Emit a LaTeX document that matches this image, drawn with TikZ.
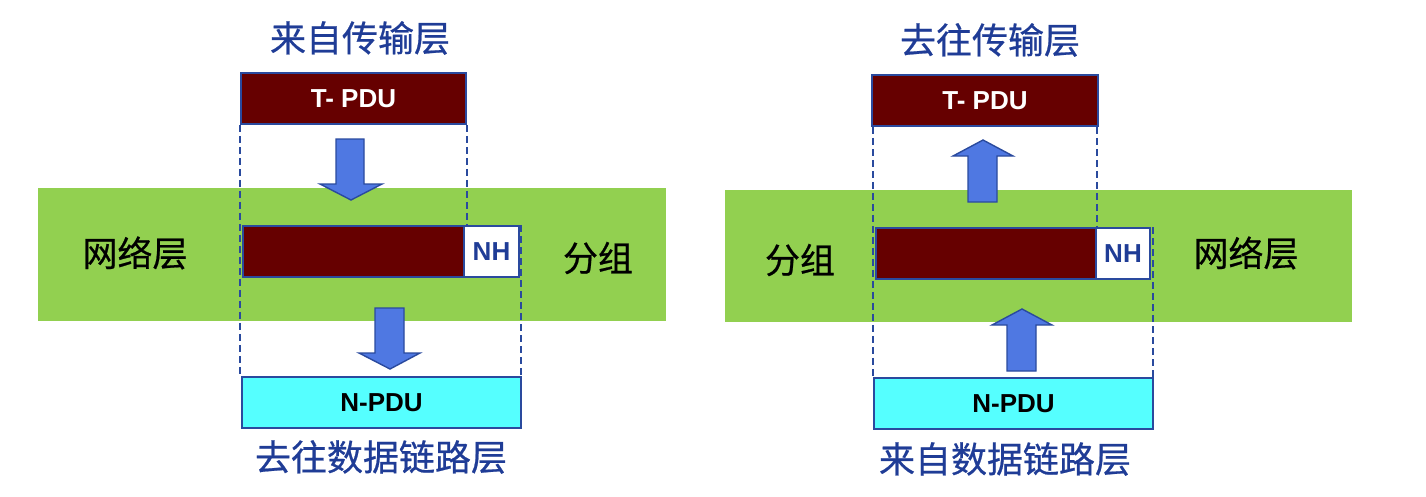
\documentclass[tikz,border=0pt]{standalone}
\usepackage{fontspec}
\setmainfont{Liberation Sans}
\newfontfamily\cjk[FakeBold=0.6]{Noto Sans CJK SC}
\definecolor{bandgreen}{HTML}{92D050}
\definecolor{darkred}{HTML}{660000}
\definecolor{edgeblue}{HTML}{2A4A9E}
\definecolor{titleblue}{HTML}{1F3C96}
\definecolor{arrowfill}{HTML}{4F78E2}
\definecolor{cyanfill}{HTML}{55FFFF}
\tikzset{
  band/.style={fill=bandgreen, draw=none},
  pdubox/.style={draw=edgeblue, line width=1.6pt, minimum height=51, inner sep=0pt, font=\fontsize{26}{30}\selectfont\bfseries},
  tbox/.style={pdubox, fill=darkred, text=white},
  redbox/.style={pdubox, fill=darkred},
  nhbox/.style={pdubox, fill=white, text=titleblue},
  nbox/.style={pdubox, fill=cyanfill, text=black},
  guide/.style={draw=edgeblue, line width=1.7pt, dash pattern=on 7pt off 4pt},
  blockarrow/.style={fill=arrowfill, draw=edgeblue, line width=1.4pt, line join=miter},
  title/.style={inner sep=0pt, text=titleblue, font=\cjk\fontsize{36}{42}\selectfont},
  side/.style={inner sep=0pt, text=black, font=\cjk\fontsize{35}{42}\selectfont},
}
\begin{document}
\begin{tikzpicture}[x=1pt,y=-1pt]
\useasboundingbox (0,0) rectangle (1426,496);
% ---------------- left ----------------
\fill[band] (38,188) rectangle (666,321);
\node[tbox, minimum width=225] (ltpdu) at (353.5,98.5) {T- PDU};
\node[redbox, minimum width=221] (lmid) at (353.5,251.5) {};
\node[nhbox, minimum width=55] (lnh) at (491.5,251.5) {NH};
\node[nbox, minimum width=279] (lnpdu) at (381.5,402.5) {N-PDU};
\draw[guide] (ltpdu.south west) -- (ltpdu.south west |- lnpdu.north);
\draw[guide] (ltpdu.south east) -- (ltpdu.south east |- lmid.north);
\draw[guide] ([xshift=1pt]lnh.north east) -- ([xshift=1pt]lnh.north east |- lnpdu.north);
\draw[blockarrow] (336,139) -- (364,139) -- (364,184) -- (382,184) -- (351,200) -- (320,184) -- (336,184) -- cycle;
\draw[blockarrow] (375,308) -- (404,308) -- (404,353) -- (420,353) -- (390,369) -- (359,353) -- (375,353) -- cycle;
\node[title] (ltop) at (360,38) {来自传输层};
\node[title] (lbot) at (381,457) {去往数据链路层};
\node[side] (lleft) at (135,253) {网络层};
\node[side] (lright) at (598,258) {分组};
% ---------------- right ----------------
\fill[band] (725,190) rectangle (1352,322);
\node[tbox, minimum width=226] (rtpdu) at (985,100.5) {T- PDU};
\node[redbox, minimum width=220] (rmid) at (986,253.5) {};
\node[nhbox, minimum width=54] (rnh) at (1123,253.5) {NH};
\node[nbox, minimum width=279] (rnpdu) at (1013.5,403.5) {N-PDU};
\draw[guide] ([xshift=2pt]rtpdu.south west) -- ([xshift=2pt]rtpdu.south west |- rnpdu.north);
\draw[guide] ([xshift=-2pt]rtpdu.south east) -- ([xshift=-2pt]rtpdu.south east |- rmid.north);
\draw[guide] ([xshift=2pt]rnh.north east) -- ([xshift=2pt]rnh.north east |- rnpdu.north);
\draw[blockarrow] (968,202) -- (997,202) -- (997,156) -- (1013,156) -- (983,140) -- (953,156) -- (968,156) -- cycle;
\draw[blockarrow] (1007,371) -- (1036,371) -- (1036,325) -- (1052,325) -- (1022,309) -- (992,325) -- (1007,325) -- cycle;
\node[title] (rtop) at (990,40) {去往传输层};
\node[title] (rbot) at (1005,459) {来自数据链路层};
\node[side] (rleft) at (800,260) {分组};
\node[side] (rright) at (1246,253) {网络层};
\end{tikzpicture}
\end{document}
